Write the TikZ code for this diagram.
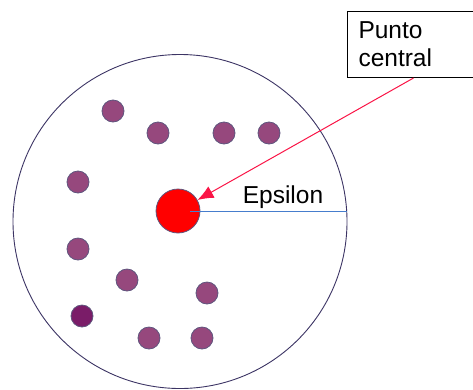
\documentclass[tikz,border=0pt]{standalone}
\usepackage{fontspec}
\setmainfont{Liberation Sans}
\usepackage{xcolor}
\usetikzlibrary{arrows.meta}
\usetikzlibrary{math}
\definecolor{myviolet}{RGB}{150,72,125}
\definecolor{mydark}{RGB}{122,28,104}
\definecolor{myedge}{RGB}{95,85,125}
\definecolor{myred}{RGB}{255,0,0}
\definecolor{mypink}{RGB}{250,20,70}
\definecolor{myblue}{RGB}{70,125,205}
\definecolor{mynavy}{RGB}{60,52,100}

\tikzset{
  punto/.style={circle, fill=myviolet, draw=myedge, line width=0.8pt, minimum size=22pt, inner sep=0pt},
  etiqueta/.style={font=\fontsize{24.5}{28}\selectfont},
}

\begin{document}
\begin{tikzpicture}[x=1pt,y=-1pt]
\tikzmath{
\D=334;
}
\useasboundingbox (0,0) rectangle (473,389);

\node[circle, draw=mynavy, line width=0.9pt, minimum size=\D pt, inner sep=0pt] (vecindad) at (180,221.5) {};

\node[punto] (p1) at (113,111) {};
\node[punto] (p2) at (158,133) {};
\node[punto] (p3) at (224,133) {};
\node[punto] (p4) at (269,133) {};
\node[punto] (p5) at (78,182) {};
\node[punto] (p6) at (78,249) {};
\node[punto] (p7) at (127,280) {};
\node[punto] (p8) at (207,293) {};
\node[punto, fill=mydark] (p9) at (82,316) {};
\node[punto] (p10) at (149,338) {};
\node[punto] (p11) at (202,338) {};

\node[circle, fill=myred, draw=myedge, line width=0.8pt, minimum size=44pt, inner sep=0pt] (centro) at (178,211) {};

\draw[myblue, line width=1pt, shorten <=12pt] (centro.center) -- (centro.center -| vecindad.east);
\node[etiqueta, anchor=base] (eps) at (283,203) {Epsilon};

\node[etiqueta, draw, line width=1pt, anchor=north west, align=left, text width=104pt, inner xsep=11pt, minimum height=66pt] (caja) at (347,11) {Punto\\central};

\draw[mypink, line width=1pt, -{Latex[length=16pt,width=13pt]}] ([xshift=3pt]caja.south) -- (centro);

\end{tikzpicture}
\end{document}
